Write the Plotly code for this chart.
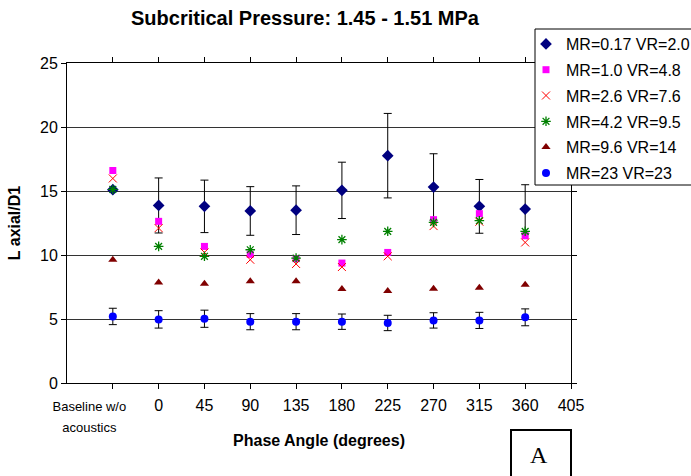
import plotly.graph_objects as go

# x positions: -45 represents "Baseline w/o acoustics"
x_pos = [-45, 0, 45, 90, 135, 180, 225, 270, 315, 360]
tick_vals = [-45, 0, 45, 90, 135, 180, 225, 270, 315, 360, 405]
PAD = "\u00a0" * 13
tick_text = ["<span style='font-size:13px'>Baseline w/o" + PAD + "<br>acoustics" + PAD + "</span>",
             "0", "45", "90", "135", "180", "225", "270", "315", "360", "405"]

mr017 = [15.1, 13.87, 13.8, 13.44, 13.5, 15.05, 17.76, 15.31, 13.8, 13.59]
mr017_err = [None, 2.15, 2.05, 1.9, 1.9, 2.2, 3.3, 2.6, 2.1, 1.9]
mr10 = [16.6, 12.63, 10.67, 10.05, 9.71, 9.37, 10.2, 12.76, 13.23, 11.5]
mr26 = [15.98, 12.1, 10.2, 9.63, 9.3, 9.06, 9.9, 12.26, 12.6, 10.98]
mr42 = [15.12, 10.67, 9.9, 10.41, 9.76, 11.2, 11.85, 12.55, 12.68, 11.85]
mr96 = [9.63, 7.86, 7.76, 7.94, 7.94, 7.34, 7.19, 7.37, 7.45, 7.68]
mr23 = [5.2, 4.97, 5.02, 4.79, 4.79, 4.79, 4.69, 4.89, 4.89, 5.13]
mr23_err = [0.64, 0.68, 0.67, 0.63, 0.63, 0.6, 0.6, 0.6, 0.63, 0.66]

names = ["MR=0.17 VR=2.0", "MR=1.0 VR=4.8", "MR=2.6 VR=7.6",
         "MR=4.2 VR=9.5", "MR=9.6 VR=14", "MR=23 VR=23"]

L, R, T, B = 67, 120, 63, 93
PW = 691 - L - R
PH = 476 - T - B


def px(xp):
    return (xp - L) / PW


def py(yp):
    return (476 - B - yp) / PH


fig = go.Figure()


def err(vals):
    return dict(type="data", array=[v if v is not None else 0 for v in vals],
                visible=True, color="black", thickness=1, width=4)


fig.add_trace(go.Scatter(x=x_pos, y=mr017, mode="markers", name=names[0], legendgroup="a",
                         marker=dict(symbol="diamond", size=9, color="#000080"),
                         error_y=err(mr017_err)))
fig.add_trace(go.Scatter(x=x_pos, y=mr10, mode="markers", name=names[1], legendgroup="b",
                         marker=dict(symbol="square", size=7, color="#FF00FF")))
fig.add_trace(go.Scatter(x=x_pos, y=mr26, mode="markers", name=names[2], legendgroup="c",
                         marker=dict(symbol="x-thin-open", size=8, color="#FF0000",
                                     line=dict(color="#FF0000", width=1))))
fig.add_trace(go.Scatter(x=x_pos, y=mr42, mode="markers", name=names[3], legendgroup="d",
                         marker=dict(symbol="asterisk-open", size=8, color="#008000",
                                     line=dict(color="#008000", width=1.3))))
fig.add_trace(go.Scatter(x=x_pos, y=mr96, mode="markers", name=names[4], legendgroup="e",
                         marker=dict(symbol="triangle-up", size=8, color="#800000")))
fig.add_trace(go.Scatter(x=x_pos, y=mr23, mode="markers", name=names[5], legendgroup="f",
                         marker=dict(symbol="circle", size=8, color="#0000FF"),
                         error_y=err(mr23_err)))

fig.update_layout(
    width=691, height=476,
    margin=dict(l=L, r=R, t=T, b=B, autoexpand=False),
    paper_bgcolor="white", plot_bgcolor="white",
    font=dict(family="Liberation Sans, Arial", color="black"),
    title=dict(text="<b>Subcritical Pressure: 1.45 - 1.51 MPa</b>",
               x=305 / 691, xanchor="center", y=1 - 18 / 476, yanchor="middle",
               font=dict(size=20)),
    showlegend=True,
    legend=dict(x=px(526), y=py(27), xanchor="left", yanchor="top",
                bgcolor="rgba(0,0,0,0)", borderwidth=0,
                font=dict(size=16), tracegroupgap=2, traceorder="grouped",
                itemwidth=30),
    xaxis=dict(range=[-90, 405], tickvals=tick_vals, ticktext=tick_text,
               tickangle=0,
               showgrid=False, zeroline=False, showline=True, linecolor="black",
               linewidth=1, mirror="ticks", ticks="outside", ticklen=5,
               tickcolor="black", tickfont=dict(size=16), ticklabelstandoff=3,
               title=dict(text="<b>Phase Angle (degrees)</b>", font=dict(size=16), standoff=0)),
    yaxis=dict(range=[0, 25], tickvals=[0, 5, 10, 15, 20, 25],
               showgrid=True, gridcolor="#333333", gridwidth=1, zeroline=False,
               showline=True, linecolor="black", linewidth=1, mirror="ticks",
               ticks="outside", ticklen=5, tickcolor="black",
               tickfont=dict(size=16),
               title=dict(text="<b>L axial/D1</b>", font=dict(size=16), standoff=15)),
)

# legend frame
fig.add_shape(type="rect", xref="paper", yref="paper", layer="above",
              x0=px(535), x1=px(693), y0=py(185), y1=py(29),
              line=dict(color="black", width=1), fillcolor="white")

# "A" label box
fig.add_shape(type="rect", xref="paper", yref="paper", layer="above",
              x0=px(511), x1=px(571), y0=py(482), y1=py(430),
              line=dict(color="black", width=2), fillcolor="white")
fig.add_annotation(text="A", xref="paper", yref="paper",
                   x=px(539), y=py(455), xanchor="center", yanchor="middle",
                   showarrow=False,
                   font=dict(family="Liberation Serif, Times New Roman", size=24, color="black"))

fig.write_html("out.html")
